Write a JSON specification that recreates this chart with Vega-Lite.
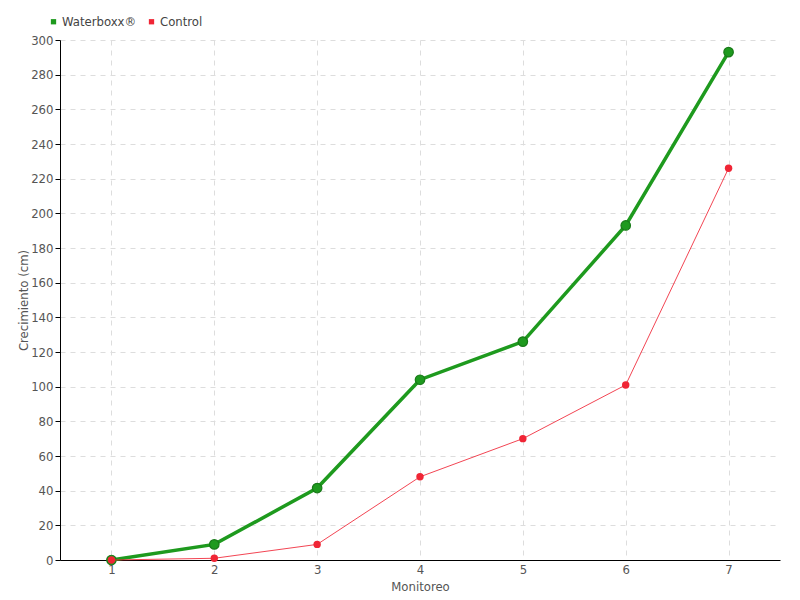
{
  "$schema": "https://vega.github.io/schema/vega-lite/v6.json",
  "width": 720,
  "height": 520,
  "autosize": {"type": "none"},
  "padding": {"left": 60, "top": 40, "right": 20, "bottom": 40},
  "background": "white",
  "config": {
    "font": "DejaVu Sans Condensed",
    "view": {"stroke": null},
    "axis": {
      "labelColor": "#555555",
      "labelFontSize": 13,
      "titleColor": "#555555",
      "titleFontSize": 13,
      "titleFontWeight": "normal",
      "gridColor": "#dddddd",
      "gridDash": [5, 5],
      "domainColor": "#000000",
      "tickColor": "#000000"
    }
  },
  "data": {
    "values": [
      {"m": 1, "serie": "Waterboxx®", "v": 0},
      {"m": 2, "serie": "Waterboxx®", "v": 9},
      {"m": 3, "serie": "Waterboxx®", "v": 41.5},
      {"m": 4, "serie": "Waterboxx®", "v": 104},
      {"m": 5, "serie": "Waterboxx®", "v": 126},
      {"m": 6, "serie": "Waterboxx®", "v": 193},
      {"m": 7, "serie": "Waterboxx®", "v": 293},
      {"m": 1, "serie": "Control", "v": 0},
      {"m": 2, "serie": "Control", "v": 1},
      {"m": 3, "serie": "Control", "v": 9},
      {"m": 4, "serie": "Control", "v": 48},
      {"m": 5, "serie": "Control", "v": 70},
      {"m": 6, "serie": "Control", "v": 101},
      {"m": 7, "serie": "Control", "v": 226}
    ]
  },
  "encoding": {
    "x": {
      "field": "m",
      "type": "ordinal",
      "scale": {"type": "point", "padding": 0.5},
      "axis": {"labelAngle": 0, "ticks": false, "grid": true, "title": "Monitoreo", "titleY": 20, "labelPadding": 3}
    },
    "y": {
      "field": "v",
      "type": "quantitative",
      "scale": {"domain": [0, 300], "nice": false},
      "axis": {"values": [0,20,40,60,80,100,120,140,160,180,200,220,240,260,280,300], "title": "Crecimiento (cm)", "tickSize": 5, "titleX": -30}
    },
    "color": {
      "field": "serie",
      "type": "nominal",
      "scale": {"domain": ["Waterboxx®", "Control"], "range": ["#1e9a1e", "#f02535"]},
      "legend": {
        "title": null,
        "orient": "none",
        "legendX": -13,
        "legendY": -25,
        "direction": "horizontal",
        "symbolType": "square",
        "symbolSize": 28,
        "symbolStrokeWidth": 0,
        "labelFontSize": 13,
        "labelColor": "#444444",
        "labelOffset": 2,
        "columnPadding": 8
      }
    }
  },
  "layer": [
    {
      "transform": [{"filter": "datum.serie === 'Waterboxx®'"}],
      "mark": {"type": "line", "strokeWidth": 3.5}
    },
    {
      "transform": [{"filter": "datum.serie === 'Waterboxx®'"}],
      "mark": {"type": "point", "filled": true, "opacity": 1, "size": 90, "strokeWidth": 1.2, "stroke": "#187a18"}
    },
    {
      "transform": [{"filter": "datum.serie === 'Control'"}],
      "mark": {"type": "line", "strokeWidth": 1, "opacity": 0.85}
    },
    {
      "transform": [{"filter": "datum.serie === 'Control'"}],
      "mark": {"type": "point", "filled": true, "opacity": 1, "size": 55}
    }
  ]
}
